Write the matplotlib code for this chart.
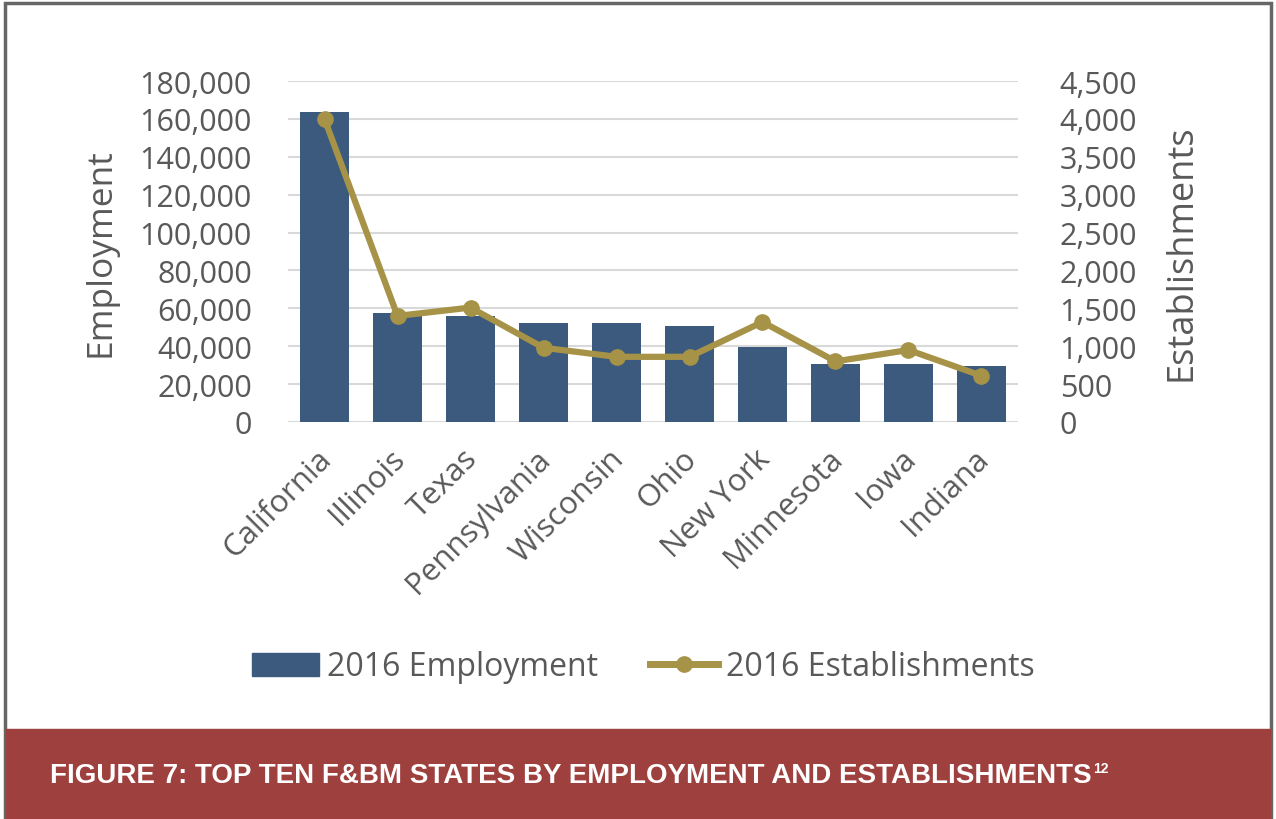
import matplotlib.pyplot as plt
from matplotlib.ticker import FuncFormatter, MultipleLocator
from matplotlib.patches import Rectangle
from matplotlib.lines import Line2D
from matplotlib.transforms import ScaledTranslation

plt.rcParams['font.family'] = ['Open Sans', 'DejaVu Sans']

states = ["California", "Illinois", "Texas", "Pennsylvania", "Wisconsin",
          "Ohio", "New York", "Minnesota", "Iowa", "Indiana"]
employment = [163500, 57500, 56000, 52300, 52300, 50700, 39600, 30800, 30800, 29700]
establishments = [4000, 1400, 1510, 980, 860, 860, 1320, 800, 950, 610]

bar_color = "#3B5A7E"
line_color = "#A69347"
text_gray = "#595959"
grid_gray = "#D9D9D9"
banner_red = "#9E403E"

fig = plt.figure(figsize=(12.76, 8.2), dpi=100)
ax = fig.add_axes([288/1276, 1-423/820, 730/1276, 341/820])

x = range(len(states))
ax.bar(x, employment, width=0.67, color=bar_color, zorder=2)
ax.set_xlim(-0.5, len(states)-0.5)
ax.set_ylim(0, 180000)
ax.yaxis.set_major_locator(MultipleLocator(20000))
ax.yaxis.set_major_formatter(FuncFormatter(lambda v, p: f"{int(v):,}"))
ax.grid(axis='y', color=grid_gray, linewidth=1.5, zorder=0)
for s in ax.spines.values():
    s.set_visible(False)
ax.tick_params(axis='y', length=0, pad=26, labelsize=22, labelcolor=text_gray)
ax.tick_params(axis='x', length=0, pad=6, labelsize=22.5, labelcolor=text_gray)
ax.set_xticks(list(x))
ax.set_xticklabels(states, rotation=45, ha='right', rotation_mode='anchor')
# nudge the slanted state names down and to the left
shift = ScaledTranslation(-0.08, -0.13, fig.dpi_scale_trans)
for lbl in ax.get_xticklabels():
    lbl.set_transform(lbl.get_transform() + shift)
ax.set_ylabel("Employment", fontsize=25.5, color=text_gray)
ax.yaxis.set_label_coords(-0.233, 0.5)

ax2 = ax.twinx()
ax2.plot(list(x), establishments, color=line_color, linewidth=4.5,
         marker='o', markersize=11, zorder=3)
ax2.set_ylim(0, 4500)
ax2.yaxis.set_major_locator(MultipleLocator(500))
ax2.yaxis.set_major_formatter(FuncFormatter(lambda v, p: f"{int(v):,}"))
for s in ax2.spines.values():
    s.set_visible(False)
ax2.tick_params(axis='y', length=0, pad=30, labelsize=22, labelcolor=text_gray)
ax2.set_ylabel("Establishments", fontsize=26, color=text_gray, rotation=90)
ax2.yaxis.set_label_coords(1.199, 0.5)

handles = [Rectangle((0, 0), 1, 1, color=bar_color),
           Line2D([], [], color=line_color, linewidth=5, marker='o', markersize=11)]
fig.legend(handles, ["2016 Employment", "2016 Establishments"],
           loc='center', bbox_to_anchor=(643/1276, 1-668/820), ncol=2,
           frameon=False, fontsize=23, labelcolor=text_gray,
           handlelength=2.1, handleheight=0.75, handletextpad=0.25,
           columnspacing=1.65)

# outer frame and caption banner
fig.add_artist(Rectangle((5/1276, -0.1), 1266/1276, 1.1-4/820,
                         transform=fig.transFigure, fill=False,
                         edgecolor="#666666", linewidth=2.5))
fig.add_artist(Rectangle((6/1276, 0), 1264/1276, 90/820,
                         transform=fig.transFigure, color=banner_red))
cap = fig.text(50/1276, 1-776/820,
               "FIGURE 7: TOP TEN F&BM STATES BY EMPLOYMENT AND ESTABLISHMENTS",
               color="white", fontsize=20, fontweight='bold',
               family='Liberation Sans', va='center', ha='left')
fig.canvas.draw()
bb = cap.get_window_extent()
fig.text(bb.x1/1276 + 0.001, 1-769/820, "12", color="white", fontsize=10,
         fontweight='bold', family='Liberation Sans', va='center', ha='left')

fig.savefig("out.png", dpi=100)
